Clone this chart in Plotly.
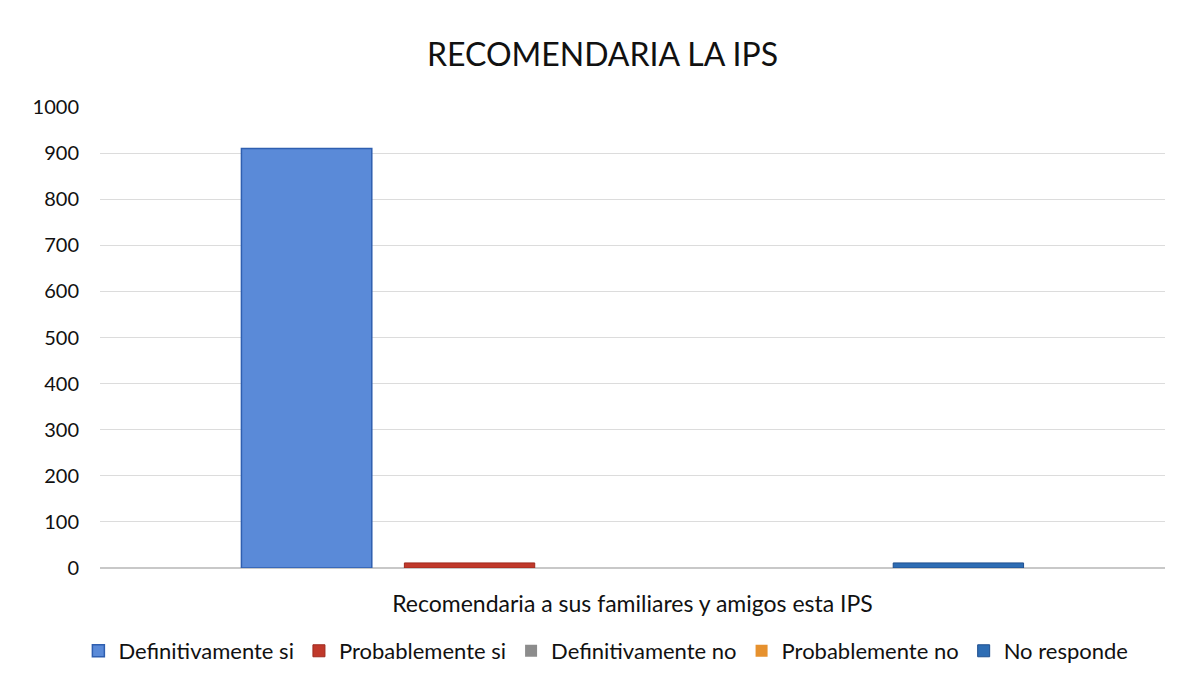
import plotly.graph_objects as go

categories = ["Recomendaria a sus familiares y amigos esta IPS"]
series_names = ["Definitivamente si", "Probablemente si", "Definitivamente no", "Probablemente no", "No responde"]
series_values = [[910], [11], [0], [0], [11]]
colors = ["#5A8AD8", "#C0392B", "#8C8C8C", "#E6912E", "#2E6DB4"]
borders = ["#2F5FB0", "#9E2A1E", "#6E6E6E", "#C07020", "#1F4F8F"]
border_widths = [1.5, 1, 0, 0, 1]
y_ticks = [0, 100, 200, 300, 400, 500, 600, 700, 800, 900, 1000]

FONT = "Lato, Open Sans, sans-serif"

fig = go.Figure()
for name, vals, c, b, w in zip(series_names, series_values, colors, borders, border_widths):
    fig.add_trace(go.Bar(x=categories, y=vals, name=name,
                         marker=dict(color=c, line=dict(color=b, width=w))))

fig.update_layout(
    width=1189, height=687,
    paper_bgcolor="white", plot_bgcolor="white",
    margin=dict(l=92, r=32, t=99, b=127),
    barmode="group", bargap=0.235, bargroupgap=0.2,
    title=dict(text="RECOMENDARIA LA IPS", x=0.5, xanchor="center", y=0.932, yanchor="middle",
               font=dict(family=FONT, size=32, color="#111111")),
    font=dict(family=FONT, color="#111111"),
    legend=dict(orientation="h", x=0.475, xanchor="center", y=-0.18, yanchor="middle",
                font=dict(size=22, color="#111111"), traceorder="normal"),
    xaxis=dict(showgrid=False, showline=False, ticks="", tickfont=dict(size=23),
               ticklabelstandoff=20),
    yaxis=dict(range=[0, 1000], tickvals=y_ticks, showgrid=True, gridcolor="#dcdcdc",
               zeroline=True, zerolinecolor="#c8c8c8", tickfont=dict(size=20),
               ticklabelstandoff=20, showline=False),
)

fig.write_html("out.html")
